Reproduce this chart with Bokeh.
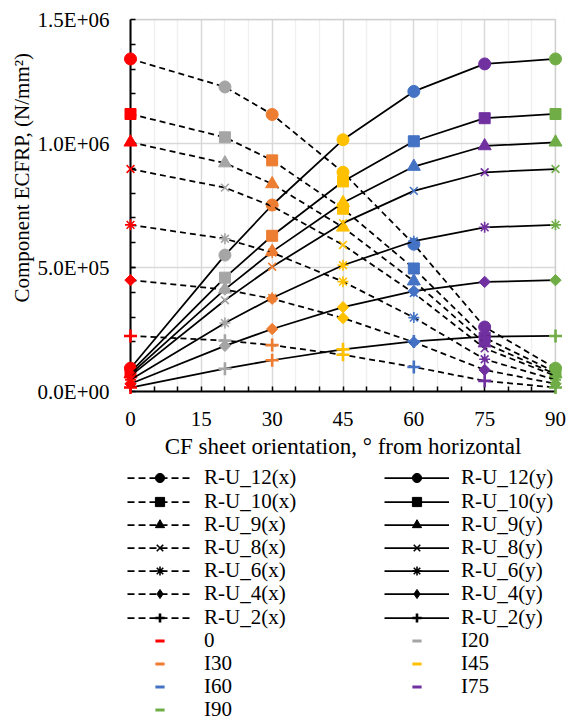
import math

from bokeh.embed import file_html
from bokeh.layouts import column
from bokeh.models import (BoxAnnotation, ColumnDataSource, FixedTicker,
                          Legend, LegendItem, LinearAxis, Range1d, Title)
from bokeh.plotting import figure
from bokeh.resources import INLINE

# CF sheet orientation (degrees from horizontal) and its per-angle groups
angles = [0, 20, 30, 45, 60, 75, 90]
angle_names = ["0", "I20", "I30", "I45", "I60", "I75", "I90"]
angle_colors = ["#FF0000", "#A5A5A5", "#ED7D31", "#FFC000",
                "#4472C4", "#7030A0", "#70AD47"]

# Component ECFRP (N/mm^2)
ru12_x = [1341000, 1228000, 1117000, 884000, 594000, 260000, 94000]
ru12_y = [94000, 550000, 752000, 1015000, 1210000, 1321000, 1341000]
ru10_x = [1119000, 1025000, 932000, 737000, 496000, 217000, 78000]
ru10_y = [78000, 459000, 628000, 847000, 1009000, 1102000, 1119000]
ru9_x = [1005000, 921000, 837000, 662000, 445000, 195000, 70000]
ru9_y = [70000, 412000, 564000, 761000, 907000, 990000, 1005000]
ru8_x = [897000, 822000, 747000, 591000, 397000, 174000, 63000]
ru8_y = [63000, 368000, 503000, 679000, 809000, 884000, 897000]
ru6_x = [672000, 616000, 560000, 443000, 298000, 130000, 47000]
ru6_y = [47000, 276000, 377000, 509000, 606000, 662000, 672000]
ru4_x = [449000, 411000, 374000, 296000, 199000, 87000, 31000]
ru4_y = [31000, 184000, 252000, 340000, 405000, 442000, 449000]
ru2_x = [224000, 205000, 187000, 148000, 99000, 43000, 16000]
ru2_y = [16000, 92000, 126000, 170000, 202000, 221000, 224000]

x_ticks = [0, 15, 30, 45, 60, 75, 90]
x_minor = [5, 10, 20, 25, 35, 40, 50, 55, 65, 70, 80, 85]
y_ticks = [0, 500000, 1000000, 1500000]
y_minor = [100000 * k for k in range(1, 15)]
y_tick_labels = ["0.0E+00", "5.0E+05", "1.0E+06", "1.5E+06"]

X_MAX = 90
Y_MAX = 1500000
FONT = "Liberation Serif"
GRID = "#D9D9D9"

# marker styles: (bokeh marker, size, angle, line width, filled)
MARKERS = {
    "12": ("circle", 12, 0.0, 1.0, True),
    "10": ("square", 11, 0.0, 1.0, True),
    "9": ("triangle", 13, 0.0, 1.0, True),
    "8": ("x", 11, 0.0, 1.6, False),
    "6": ("asterisk", 11, 0.0, 1.6, False),
    "4": ("square", 8, math.pi / 4, 1.0, True),
    "2": ("cross", 13, 0.0, 2.6, False),
}
# legend swatches ignore marker rotation, so the diamond is named directly
KEY_MARKER = {"4": "diamond"}

series = [
    ("12", ru12_x, ru12_y),
    ("10", ru10_x, ru10_y),
    ("9", ru9_x, ru9_y),
    ("8", ru8_x, ru8_y),
    ("6", ru6_x, ru6_y),
    ("4", ru4_x, ru4_y),
    ("2", ru2_x, ru2_y),
]

# the frame reaches 8 px past the axes so edge markers are drawn whole
PAD = 8
FW, FH = 441, 388
TOP, BOTTOM = 11, 69
x_pad = PAD * X_MAX / (FW - 2 * PAD)
y_pad = PAD * Y_MAX / (FH - 2 * PAD)

p = figure(
    frame_width=FW, frame_height=FH,
    min_border_left=122, min_border_right=11,
    min_border_top=TOP, min_border_bottom=BOTTOM,
    x_range=Range1d(-x_pad, X_MAX + x_pad),
    y_range=Range1d(-y_pad, Y_MAX + y_pad),
    output_backend="svg", toolbar_location=None,
    background_fill_color="white", border_fill_color="white",
)
p.outline_line_color = None

x_ticker = FixedTicker(ticks=x_ticks, minor_ticks=x_minor)
y_ticker = FixedTicker(ticks=y_ticks, minor_ticks=y_minor)

# edge axes carry the tick labels (and the x title) only
xa = p.xaxis[0]
ya = p.yaxis[0]
xa.ticker = x_ticker
ya.ticker = y_ticker
ya.major_label_overrides = dict(zip(y_ticks, y_tick_labels))
for ax in (xa, ya):
    ax.axis_line_color = None
    ax.major_tick_line_color = None
    ax.minor_tick_line_color = None
    ax.major_tick_out = 0
    ax.minor_tick_out = 0
    ax.major_label_text_font = FONT
    ax.major_label_text_font_size = "21px"
    ax.major_label_text_color = "black"
xa.major_label_standoff = 12
ya.major_label_standoff = 13

xa.axis_label = "CF sheet orientation, \u00b0 from horizontal"
xa.axis_label_standoff = 5
xa.axis_label_text_font = FONT
xa.axis_label_text_font_size = "23px"
xa.axis_label_text_font_style = "normal"
xa.axis_label_text_color = "black"

# axis lines and inward ticks drawn through the data origin
for dim, ticker, bounds, ticks in (("below", x_ticker, (0, X_MAX), x_ticks),
                                   ("left", y_ticker, (0, Y_MAX), y_ticks)):
    ax = LinearAxis(ticker=ticker, fixed_location=0, bounds=bounds,
                    axis_line_color="black", axis_line_width=2,
                    major_tick_line_color="black",
                    minor_tick_line_color="black",
                    major_tick_line_width=1.5, minor_tick_line_width=1.5,
                    major_tick_in=5, major_tick_out=0,
                    minor_tick_in=5, minor_tick_out=0,
                    major_label_overrides={t: "" for t in ticks},
                    major_label_text_color=None,
                    major_label_text_font_size="1px",
                    major_label_standoff=0)
    p.add_layout(ax, dim)

p.add_layout(Title(text="Component ECFRP, (N/mm\u00b2)", align="left",
                   offset=97, standoff=0, vertical_align="middle",
                   text_font=FONT, text_font_size="21px",
                   text_font_style="normal", text_color="black"), "left")

# grid
p.xgrid.grid_line_color = GRID
p.xgrid.grid_line_width = 1.5
p.xgrid.minor_grid_line_color = "#F0F0F0"
p.xgrid.minor_grid_line_width = 1.5
p.ygrid.grid_line_color = GRID
p.ygrid.grid_line_width = 1.5
p.ygrid.minor_grid_line_color = None

# blank the grid outside the plot area, then draw the grey top/right border
for kw in (dict(top=0), dict(bottom=Y_MAX), dict(right=0), dict(left=X_MAX)):
    p.add_layout(BoxAnnotation(fill_color="white", fill_alpha=1,
                               line_color=None, level="underlay", **kw))
p.add_layout(BoxAnnotation(left=0, right=X_MAX, bottom=0, top=Y_MAX,
                           fill_alpha=0, line_color="#8C8C8C",
                           line_width=1.5, level="underlay"))


def draw_markers(key, vals):
    marker, size, ang, lw, filled = MARKERS[key]
    src = ColumnDataSource(dict(x=angles, y=vals, c=angle_colors))
    p.scatter("x", "y", source=src, marker=marker, size=size, angle=ang,
              line_color="c", fill_color="c" if filled else None,
              line_width=lw, level="overlay")


for key, xs, ys in series:
    p.line(angles, xs, line_color="black", line_width=1.75,
           line_dash="6 4", level="overlay")
    draw_markers(key, xs)
    p.line(angles, ys, line_color="black", line_width=1.75, level="overlay")
    draw_markers(key, ys)

# ---- legend panel below the chart ----
LW = 574
LH = 720 - (TOP + FH + BOTTOM)
q = figure(
    frame_width=LW, frame_height=LH, min_border=0,
    x_range=Range1d(0, LW), y_range=Range1d(0, LH),
    x_axis_location=None, y_axis_location=None,
    output_backend="svg", toolbar_location=None,
    background_fill_color="white", border_fill_color="white",
)
q.outline_line_color = None
q.grid.visible = False

NAN = float("nan")


def key_source():
    # a single undrawable point: the glyph only serves as a legend swatch
    return ColumnDataSource(dict(x=[NAN], y=[NAN]))


def key_glyphs(key, dashed):
    marker, size, ang, lw, filled = MARKERS[key]
    ln = q.line("x", "y", source=key_source(), line_color="black",
                line_width=1.75, line_dash="7 4" if dashed else "solid")
    mk = q.scatter("x", "y", source=key_source(),
                   marker=KEY_MARKER.get(key, marker),
                   line_color="black",
                   fill_color="black" if filled else None, line_width=lw)
    return [ln, mk]


left_items = []
right_items = []
for key, _, _ in series:
    left_items.append(LegendItem(label=f"R-U_{key}(x)",
                                 renderers=key_glyphs(key, True)))
    right_items.append(LegendItem(label=f"R-U_{key}(y)",
                                  renderers=key_glyphs(key, False)))

for i, (name, col) in enumerate(zip(angle_names, angle_colors)):
    r = q.scatter("x", "y", source=key_source(), marker="dash",
                  line_color=col, line_width=3)
    item = LegendItem(label=name, renderers=[r])
    (left_items if i % 2 == 0 else right_items).append(item)

# one legend box per entry keeps the rows on a fixed pitch
ROW0 = 229.6
ROW_STEP = 23.2
for col_x, items in ((127, left_items), (384, right_items)):
    for i, item in enumerate(items):
        q.add_layout(Legend(
            items=[item], location=(col_x, ROW0 - ROW_STEP * i),
            glyph_width=65, glyph_height=23, label_height=23,
            padding=0, margin=0, label_standoff=12,
            label_text_font=FONT, label_text_font_size="21px",
            label_text_color="black", border_line_color=None,
            background_fill_alpha=0))

layout = column(p, q, spacing=0)
open("out.html", "w").write(file_html(layout, INLINE))
